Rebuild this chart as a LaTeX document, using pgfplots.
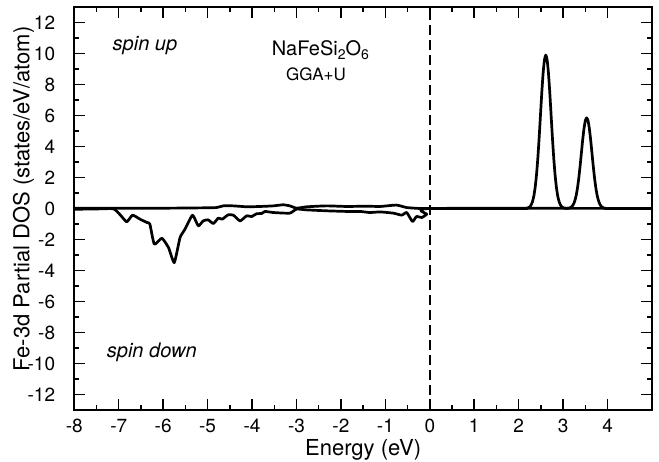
\documentclass[border=0pt]{standalone}
\usepackage{fontspec}
\setmainfont{TeX Gyre Heros}
\usepackage{pgfplots}
\pgfplotsset{compat=1.18}

\pgfplotstableread{
x y
-8.00 0.02
-6.00 0.02
-5.17 0.04
-4.80 0.06
-4.65 0.17
-4.42 0.17
-4.12 0.11
-3.82 0.13
-3.52 0.17
-3.30 0.24
-3.15 0.17
-3.00 0.02
-2.77 0.11
-2.32 0.17
-1.87 0.13
-1.42 0.15
-1.12 0.13
-0.75 0.22
-0.52 0.06
-0.22 0.00
0.00 0.00
2.10 0.00
2.16 0.009
2.21 0.038
2.25 0.110
2.28 0.226
2.31 0.435
2.34 0.788
2.37 1.340
2.40 2.141
2.43 3.214
2.46 4.532
2.49 6.005
2.52 7.473
2.55 8.737
2.58 9.595
2.61 9.900
2.64 9.595
2.67 8.737
2.70 7.473
2.73 6.005
2.76 4.532
2.79 3.214
2.82 2.141
2.85 1.340
2.88 0.788
2.91 0.435
2.94 0.226
2.97 0.110
3.01 0.038
3.06 0.009
3.08 0.005
3.13 0.023
3.17 0.065
3.20 0.133
3.23 0.257
3.26 0.466
3.29 0.792
3.32 1.265
3.35 1.899
3.38 2.678
3.41 3.548
3.44 4.416
3.47 5.163
3.50 5.670
3.53 5.850
3.56 5.670
3.59 5.163
3.62 4.416
3.65 3.548
3.68 2.678
3.71 1.899
3.74 1.265
3.77 0.792
3.80 0.466
3.83 0.257
3.86 0.133
3.89 0.065
3.93 0.023
3.98 0.005
4.05 0.000
5.00 0.000
}\spinup

\pgfplotstableread{
x y
-8.00 -0.05
-7.50 -0.03
-7.12 -0.02
-6.97 -0.40
-6.82 -0.86
-6.69 -0.43
-6.52 -0.69
-6.37 -0.90
-6.30 -1.00
-6.20 -2.30
-6.03 -1.92
-5.88 -2.52
-5.75 -3.49
-5.62 -1.87
-5.51 -1.34
-5.34 -0.43
-5.21 -1.12
-5.10 -0.80
-4.99 -0.73
-4.87 -0.97
-4.76 -0.62
-4.67 -0.69
-4.54 -0.41
-4.42 -0.43
-4.27 -0.80
-4.12 -0.47
-4.01 -0.52
-3.90 -0.34
-3.78 -0.32
-3.71 -0.19
-3.52 -0.26
-3.15 -0.30
-3.00 -0.04
-2.77 -0.09
-2.32 -0.15
-1.87 -0.19
-1.57 -0.19
-1.35 -0.26
-1.12 -0.22
-0.82 -0.30
-0.63 -0.43
-0.52 -0.26
-0.39 -0.84
-0.30 -0.52
-0.18 -0.58
-0.07 -0.37
0.00 0.00
5.00 0.00
}\spindown

\begin{document}
\begin{tikzpicture}
\begin{axis}[
 scale only axis, width=577.7pt, height=403pt,
 xmin=-8, xmax=5, ymin=-13, ymax=13,
 xtick={-8,-7,...,4}, ytick={-12,-10,...,12},
 minor x tick num=1, minor y tick num=1,
 tick align=inside, major tick length=11pt, minor tick length=5pt,
 every tick/.style={black, line width=1.5pt},
 axis line style={line width=2pt},
 /pgf/number format/assume math mode=true,
 ticklabel style={font=\fontsize{19}{21}\selectfont, inner sep=0pt},
 xticklabel style={anchor=base, yshift=-22.3pt},
 yticklabel style={anchor=east, xshift=-19pt},
 xlabel={Energy (eV)}, ylabel={Fe-3d Partial DOS (states/eV/atom)},
 label style={font=\fontsize{22}{24}\selectfont, inner sep=0pt},
 xlabel style={at={(axis description cs:0.5,-0.114)}, anchor=base},
 ylabel style={at={(axis description cs:-0.088,0.524)}, anchor=center},
]
\addplot[black, line width=1.6pt, dash pattern=on 10pt off 5pt] coordinates {(0,-13) (0,13)};
\addplot[black, line width=2.7pt, line join=round, smooth, tension=0.3] table[x=x,y=y] {\spindown};
\addplot[black, line width=2.7pt, line join=round, smooth, tension=0.3] table[x=x,y=y] {\spinup};
\node[anchor=west, inner sep=0pt, font=\fontsize{20}{22}\selectfont\itshape] at (axis cs:-7.14,10.5) {spin up};
\node[anchor=west, inner sep=0pt, font=\fontsize{20}{22}\selectfont\itshape] at (axis cs:-7.27,-9.3) {spin down};
\node[anchor=west, inner sep=0pt, font=\fontsize{20}{22}\selectfont] at (axis cs:-3.56,10.2) {NaFeSi\raisebox{-0.35ex}{\fontsize{14}{16}\selectfont 2}O\raisebox{-0.35ex}{\fontsize{14}{16}\selectfont 6}};
\node[anchor=west, inner sep=0pt, font=\fontsize{17}{19}\selectfont] at (axis cs:-3.24,8.68) {GGA+U};
\end{axis}
\path (-74.3pt,-52pt) rectangle (584.7pt,410pt);
\end{tikzpicture}
\end{document}
